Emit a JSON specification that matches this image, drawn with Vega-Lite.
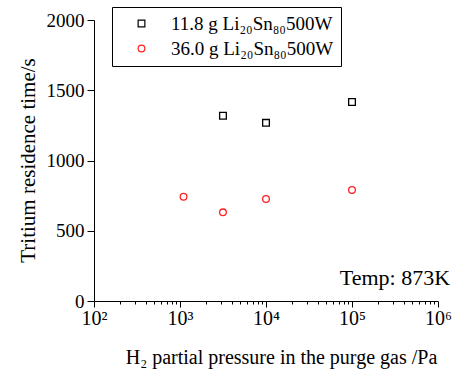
{
  "$schema": "https://vega.github.io/schema/vega-lite/v6.json",
  "width": 344,
  "height": 281,
  "autosize": {"type": "none"},
  "padding": {"left": 94, "top": 20, "right": 25, "bottom": 69},
  "background": "white",
  "config": {
    "font": "Liberation Serif, Times New Roman, serif",
    "view": {"stroke": null},
    "legend": {"labelFont": "Liberation Serif, Times New Roman, serif"},
    "axis": {
      "domainColor": "black",
      "tickColor": "black",
      "labelColor": "black",
      "titleColor": "black",
      "grid": false,
      "labelFont": "Liberation Serif, Times New Roman, serif",
      "titleFont": "Liberation Serif, Times New Roman, serif",
      "titleFontWeight": "normal",
      "labelOverlap": false,
      "labelBound": false,
      "labelFlush": false
    }
  },
  "datasets": {
    "pts": [
      {"sample": "11.8 g Li₂₀Sn₈₀500W", "pressure": 3160, "time": 1318},
      {"sample": "11.8 g Li₂₀Sn₈₀500W", "pressure": 10000, "time": 1268},
      {"sample": "11.8 g Li₂₀Sn₈₀500W", "pressure": 100000, "time": 1416},
      {"sample": "36.0 g Li₂₀Sn₈₀500W", "pressure": 1100, "time": 742},
      {"sample": "36.0 g Li₂₀Sn₈₀500W", "pressure": 3160, "time": 631},
      {"sample": "36.0 g Li₂₀Sn₈₀500W", "pressure": 10000, "time": 726},
      {"sample": "36.0 g Li₂₀Sn₈₀500W", "pressure": 100000, "time": 790}
    ],
    "note": [
      {"label": "Temp: 873K", "pressure": 1380000, "time": 114}
    ]
  },
  "layer": [
    {
      "data": {"name": "pts"},
      "mark": {"type": "point", "filled": false, "strokeWidth": 1.3, "opacity": 1},
      "encoding": {
        "x": {
          "field": "pressure",
          "type": "quantitative",
          "scale": {"type": "log", "domain": [100, 1000000], "nice": false},
          "axis": {
            "values": [100, 200, 300, 400, 500, 600, 700, 800, 900, 1000, 2000, 3000, 4000, 5000, 6000, 7000, 8000, 9000, 10000, 20000, 30000, 40000, 50000, 60000, 70000, 80000, 90000, 100000, 200000, 300000, 400000, 500000, 600000, 700000, 800000, 900000, 1000000],
            "labelExpr": "datum.value==100?'10²':datum.value==1000?'10³':datum.value==10000?'10⁴':datum.value==100000?'10⁵':datum.value==1000000?'10⁶':''",
            "tickSize": {"condition": {"test": "datum.value==100||datum.value==1000||datum.value==10000||datum.value==100000||datum.value==1000000", "value": 6}, "value": 3},
            "labelFont": "Liberation Serif, Times New Roman, serif",
            "labelFontSize": 20,
            "labelPadding": 1,
            "title": "H₂ partial pressure in the purge gas /Pa",
            "titleFontSize": 20,
            "titleX": 187,
            "titleY": 62,
            "titleBaseline": "alphabetic"
          }
        },
        "y": {
          "field": "time",
          "type": "quantitative",
          "scale": {"domain": [0, 2000], "nice": false},
          "axis": {
            "values": [0, 250, 500, 750, 1000, 1250, 1500, 1750, 2000],
            "labelExpr": "datum.value%500==0?''+datum.value:''",
            "tickSize": {"condition": {"test": "datum.value%500==0", "value": 7}, "value": 3},
            "labelFont": "Liberation Serif, Times New Roman, serif",
            "labelFontSize": 19,
            "labelPadding": 3,
            "title": "Tritium residence time/s",
            "titleFontSize": 21,
            "titleX": -66,
            "titleY": 140,
            "titleBaseline": "middle"
          }
        },
        "shape": {
          "field": "sample",
          "type": "nominal",
          "scale": {"domain": ["11.8 g Li₂₀Sn₈₀500W", "36.0 g Li₂₀Sn₈₀500W"], "range": ["square", "circle"]},
          "legend": {
            "title": null,
            "orient": "none",
            "legendX": 18,
            "legendY": -13,
            "strokeColor": "black",
            "fillColor": "white",
            "padding": 7,
            "symbolOffset": 13,
            "labelFontSize": 19,
            "labelFont": "Liberation Serif, Times New Roman, serif",
            "labelColor": "black",
            "labelOffset": 20,
            "rowPadding": 5,
            "symbolSize": 45,
            "symbolStrokeWidth": 1.2,
            "labelLimit": 400
          }
        },
        "color": {
          "field": "sample",
          "type": "nominal",
          "scale": {"domain": ["11.8 g Li₂₀Sn₈₀500W", "36.0 g Li₂₀Sn₈₀500W"], "range": ["black", "#ff2020"]}
        },
        "size": {"value": 45}
      }
    },
    {
      "data": {"name": "note"},
      "mark": {"type": "text", "align": "right", "baseline": "alphabetic", "fontSize": 22, "font": "Liberation Serif, Times New Roman, serif", "color": "black", "clip": false},
      "encoding": {
        "x": {"field": "pressure", "type": "quantitative"},
        "y": {"field": "time", "type": "quantitative"},
        "text": {"field": "label"}
      }
    }
  ]
}
